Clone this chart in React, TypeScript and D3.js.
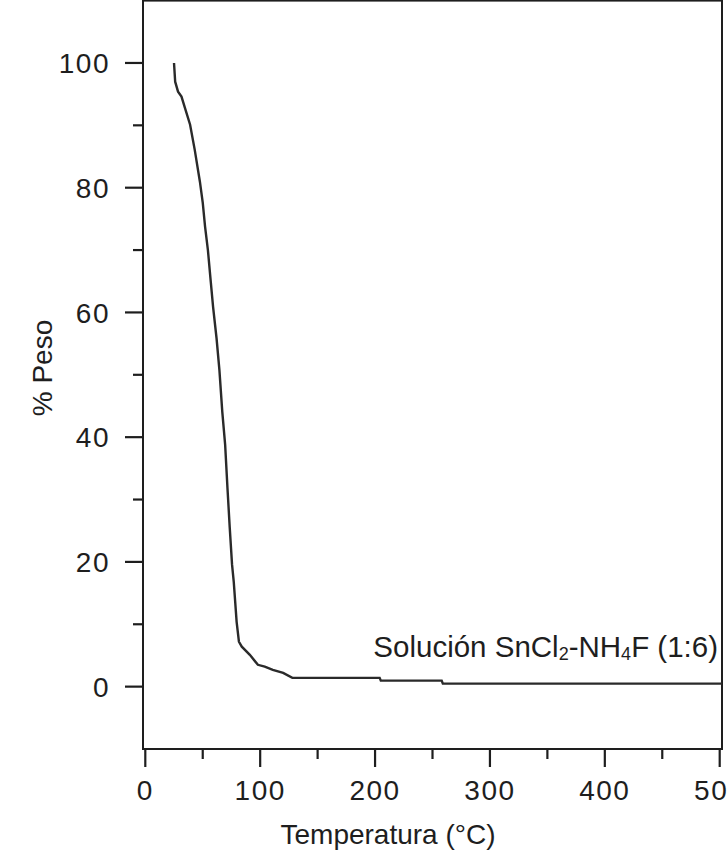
import React, { useMemo } from 'react';
import { scaleLinear, line } from 'd3';

// temperatura (°C) y % peso
const temperatura = [
  25, 26, 28.5, 31.5, 34.5, 39, 43, 47.5, 50, 52, 54.5, 57, 59, 62, 64.5, 67,
  69.5, 71.5, 73.5, 75.5, 77, 79.5, 81.5, 84, 91, 98, 104, 111, 120, 128, 204,
  205, 258, 259, 502,
];
const peso = [
  100, 97, 95.4, 94.6, 92.8, 90.1, 86.1, 81, 77.6, 73.8, 70, 64.9, 60.9, 55.9,
  50.8, 44.1, 38.8, 31.9, 25.5, 19.6, 16.8, 10.4, 7.2, 6.4, 5.1, 3.5, 3.2, 2.7,
  2.2, 1.4, 1.4, 0.96, 0.96, 0.48, 0.48,
];

const xMajorTicks = [0, 100, 200, 300, 400, 500];
const xMinorTicks = [50, 150, 250, 350, 450];
const yMajorTicks = [0, 20, 40, 60, 80, 100];
const yMinorTicks = [10, 30, 50, 70, 90];

const W = 727;
const H = 853;
const FONT = '"Liberation Sans", Arial, sans-serif';
const INK = '#1e1e1e';

export default function App() {
  // frame of the plot
  const left = 143;
  const right = 722;
  const top = 0.6;
  const bottom = 749;

  const xScale = useMemo(
    () => scaleLinear().domain([-2, 502]).range([left, right]),
    []
  );
  const yScale = useMemo(
    () => scaleLinear().domain([-10, 110]).range([bottom, top]),
    []
  );

  const path = useMemo(() => {
    const pts = temperatura.map((t, i) => [t, peso[i]] as [number, number]);
    return line()
      .x((d) => xScale(d[0]))
      .y((d) => yScale(d[1]))(pts);
  }, []);

  return (
    <svg
      width={W}
      height={H}
      style={{ position: 'absolute', left: 0, top: 0, background: '#fff' }}
      fontFamily={FONT}
    >
      {/* frame */}
      <rect
        x={left}
        y={top}
        width={right - left}
        height={bottom - top}
        fill="none"
        stroke={INK}
        strokeWidth={2}
      />

      {/* y axis ticks */}
      {yMajorTicks.map((v) => (
        <g key={'ym' + v}>
          <line x1={left - 18} x2={left} y1={yScale(v)} y2={yScale(v)} stroke={INK} strokeWidth={2.2} />
          <text
            x={110}
            y={yScale(v)}
            dy="0.36em"
            textAnchor="end"
            fontSize={28}
            fill={INK}
            letterSpacing={1.5}
          >
            {v}
          </text>
        </g>
      ))}
      {yMinorTicks.map((v) => (
        <line key={'yn' + v} x1={left - 10} x2={left} y1={yScale(v)} y2={yScale(v)} stroke={INK} strokeWidth={2.2} />
      ))}

      {/* x axis ticks */}
      {xMajorTicks.map((v) => (
        <g key={'xm' + v}>
          <line x1={xScale(v)} x2={xScale(v)} y1={bottom} y2={bottom + 18} stroke={INK} strokeWidth={2.2} />
          <text
            x={xScale(v)}
            y={800}
            textAnchor="middle"
            fontSize={28}
            fill={INK}
            letterSpacing={1.5}
          >
            {v}
          </text>
        </g>
      ))}
      {xMinorTicks.map((v) => (
        <line key={'xn' + v} x1={xScale(v)} x2={xScale(v)} y1={bottom} y2={bottom + 10} stroke={INK} strokeWidth={2.2} />
      ))}

      {/* axis titles */}
      <text x={388} y={844} textAnchor="middle" fontSize={28} fill={INK}>
        Temperatura (°C)
      </text>
      <text
        transform="translate(52, 368) rotate(-90)"
        textAnchor="middle"
        fontSize={28}
        fill={INK}
      >
        % Peso
      </text>

      {/* curve */}
      <path d={path || ''} fill="none" stroke="#2a2a2a" strokeWidth={2.4} />

      {/* label */}
      <text x={718} y={657} textAnchor="end" fontSize={29.5} fill={INK}>
        Solución SnCl
        <tspan fontSize={18} dy={3}>2</tspan>
        <tspan dy={-3}>-NH</tspan>
        <tspan fontSize={18} dy={3}>4</tspan>
        <tspan dy={-3}>F (1:6)</tspan>
      </text>
    </svg>
  );
}
